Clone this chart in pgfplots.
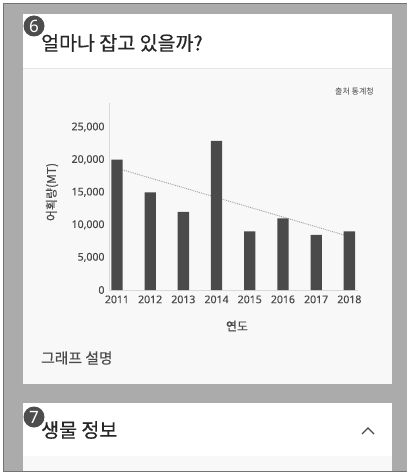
\documentclass[border=0pt]{standalone}
\usepackage{pgfplots}
\pgfplotsset{compat=1.18}
\usepackage{fontspec}
\setmainfont{Noto Sans CJK KR}
\newfontfamily\latin[FakeBold=0.25]{Noto Sans}
\newfontfamily\latinb{Noto Sans}
\newfontfamily\krm[FakeBold=0.5]{Noto Sans CJK KR}
\newfontfamily\krs[FakeBold=0.25]{Noto Sans CJK KR}
\definecolor{bgray}{HTML}{ABABAB}
\definecolor{panel}{HTML}{F8F8F8}
\definecolor{ink}{HTML}{262626}
\definecolor{mid}{HTML}{4A4A4A}
\definecolor{badge}{HTML}{4D4D4D}
\pgfplotstableread{
year val
2011 20000
2012 15000
2013 12000
2014 22900
2015 9000
2016 11000
2017 8450
2018 9000
}\catch
\pgfplotstableread{
year val
2011 18700
2018 8200
}\trend
\begin{document}
\begin{tikzpicture}[x=1pt,y=-1pt]
\clip (0,0) rectangle (407,473);
\fill[white] (0,0) rectangle (407,473);
\fill[bgray] (3,3) rectangle (407,471);
\draw[gray!90!black,line width=0.7pt] (3,3) -- (3,471) -- (407,471);
\draw[gray!90!black,line width=0.7pt] (3,3) -- (407,3);
% card 1
\fill[white] (23,14) rectangle (392,68);
\fill[panel] (23,68) rectangle (392,384);
\draw[black!10,line width=0.5pt] (23,68) -- (392,68);
% card 2
\fill[white] (23,403) rectangle (392,456);
\fill[panel] (23,456) rectangle (392,471);
\node[anchor=west,inner sep=0pt,text=ink,font=\krm\fontsize{19.5}{22}\selectfont] at (41,43) {얼마나 잡고 있을까?};
\node[anchor=east,inner sep=0pt,text=mid,font=\fontsize{8}{9}\selectfont] at (374,91) {출처 통계청};
\node[anchor=west,inner sep=0pt,text=mid,font=\krs\fontsize{14.8}{17}\selectfont] at (41,358) {그래프 설명};
\node[anchor=west,inner sep=0pt,text=ink,font=\krm\fontsize{19.5}{22}\selectfont] at (41,430) {생물 정보};
\fill[badge] (34,26) circle (10.5);
\node[text=white,inner sep=0pt,font=\latinb\bfseries\fontsize{17}{19}\selectfont] at (34,26) {6};
\fill[badge] (34,417) circle (10.5);
\node[text=white,inner sep=0pt,font=\latinb\bfseries\fontsize{17}{19}\selectfont] at (34,417) {7};
\draw[mid,line width=1.1pt] (362,434) -- (368,428) -- (374,434);
\begin{axis}[
  at={(109pt,-290pt)},anchor=origin,
  scale only axis,width=249pt,height=187pt,
  xmin=2010.76,xmax=2018.26,ymin=0,ymax=28700,
  axis x line*=bottom,axis y line*=left,
  axis line style={black!15,line width=0.6pt,-},
  tick style={draw=none},major tick length=0pt,
  xtick={2011,...,2018},ytick={0,5000,...,25000},
  scaled y ticks=false,
  /pgf/number format/assume math mode=true,
  /pgf/number format/1000 sep={,},
  xticklabel style={/pgf/number format/1000 sep={},font=\latin\fontsize{10.5}{12}\selectfont,text=mid,yshift=-2pt},
  yticklabel style={font=\latin\fontsize{10.5}{12}\selectfont,text=mid,xshift=-1pt},
  clip=false,
]
\addplot[densely dotted,black!38,line width=0.9pt,forget plot] table[x=year,y=val] {\trend};
\addplot[ybar,bar width=11.3pt,bar shift=0pt,fill=mid,draw=none] table[x=year,y=val] {\catch};
\end{axis}
\node[text=mid,inner sep=0pt,font=\krs\fontsize{12}{14}\selectfont] at (237,326) {연도};
\node[text=mid,inner sep=0pt,rotate=90,font=\krs\fontsize{12}{14}\selectfont] at (52,192) {어획량(MT)};
\end{tikzpicture}
\end{document}
